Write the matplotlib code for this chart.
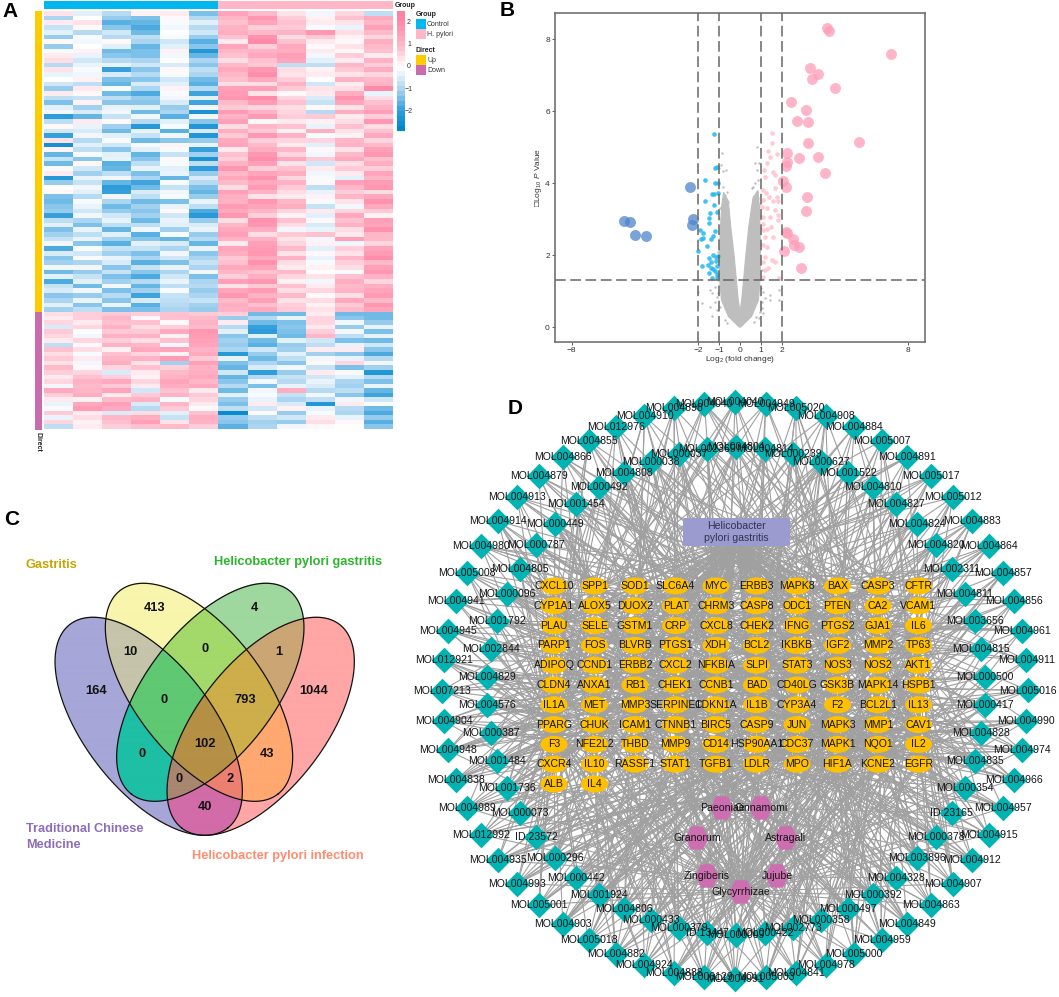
import numpy as np
import matplotlib
matplotlib.use("Agg")
import matplotlib.pyplot as plt
from matplotlib.colors import LinearSegmentedColormap, to_rgb
from matplotlib.patches import Ellipse, Rectangle, Polygon, FancyBboxPatch
from matplotlib.collections import LineCollection

plt.rcParams['font.family'] = ['Liberation Sans', 'DejaVu Sans']
plt.rcParams['mathtext.fontset'] = 'custom'
plt.rcParams['mathtext.rm'] = 'Liberation Sans'
plt.rcParams['mathtext.it'] = 'Liberation Sans:italic'

W, H = 1059, 997

# ---------------- A: heatmap values (tenths of z-score, read by eye) ----------------
HEAT_UP = [
 [4,-4,-9,2,3,-14,15,10,4,-2,6,-8],[-10,0,-12,-14,1,-9,11,18,7,2,9,14],[3,4,-17,-16,-1,-4,9,15,9,3,4,11],
 [-7,1,-13,-18,-2,-9,12,7,8,-1,-3,16],[-4,-9,-6,-15,0,-6,13,10,12,18,5,10],[-12,-1,-9,-8,-1,-12,9,19,5,8,2,6],
 [1,-2,1,-10,-6,-17,3,21,9,3,1,13],[-12,0,-4,-16,-4,-13,15,7,14,1,4,10],[-1,2,-15,-14,2,-23,11,12,13,3,1,9],
 [3,-3,-13,-14,-2,-16,9,14,16,-2,7,3],[5,-6,-9,-10,0,-10,5,9,15,-4,3,12],[-9,-3,-3,-6,-5,-13,10,8,-8,-8,11,7],
 [4,-1,-20,-13,1,-8,14,18,5,2,8,13],[-3,-2,-5,-9,-1,-10,11,20,4,3,4,6],[0,2,-14,-13,-6,-15,9,14,7,0,12,10],
 [-6,-8,-16,-5,-4,-17,5,5,12,-6,3,12],[-12,3,-1,-10,2,-9,16,16,8,4,5,21],[3,1,-15,-18,-1,-19,17,4,1,3,13,-3],
 [-8,-7,-8,-12,-2,-4,18,21,6,-5,19,5],[-14,2,-13,-13,-5,-19,10,17,9,-7,15,9],[-4,-11,-3,-4,-12,-2,8,6,5,1,4,12],
 [-2,-5,-2,-15,-10,-24,17,12,6,-9,13,16],[-21,-16,-7,-2,-17,-2,12,17,7,8,3,7],[-8,3,1,-9,-4,-13,16,1,3,2,5,18],
 [1,-3,-11,-22,-1,-23,5,11,9,-3,9,5],[-6,-5,-15,-3,-17,-5,13,8,2,13,4,9],[-20,-2,-4,-7,-2,-23,8,18,12,-1,2,14],
 [4,-9,-1,-15,-13,-12,14,7,6,6,11,6],[-25,-4,-6,-1,2,-3,15,10,3,-4,12,10],[2,-8,-13,-4,-1,-20,3,13,11,1,4,16],
 [-16,-1,-4,-16,-7,-11,9,18,6,-2,10,18],[-7,-13,-3,-13,1,-24,7,20,14,8,14,9],[-15,1,-17,-8,-1,-8,12,16,4,-6,5,13],
 [-1,-6,-16,-3,-4,-21,18,7,9,3,8,7],[3,-11,-8,-14,-3,-12,11,15,13,-2,3,15],[-22,-3,-2,-10,-16,-5,14,19,6,-1,-4,11],
 [-12,-7,-16,-19,-1,-9,10,14,12,1,16,17],[0,-2,-21,-15,-7,-14,5,17,8,-8,11,18],[1,-4,-20,-5,-2,-16,16,12,5,-3,7,5],
 [-14,-9,-2,-8,-1,-12,13,4,3,2,11,14],[-15,-1,-10,-15,-14,-3,12,18,11,-1,4,19],[-13,-3,-15,-11,-3,-8,17,15,13,-7,-2,14],
 [-12,-6,-12,-13,1,-18,14,11,6,3,6,8],[-20,-2,-6,-11,-6,-22,18,7,2,-4,14,2],[-8,-10,-3,-15,-3,-12,5,19,9,1,9,16],
 [-4,-14,-8,-8,-4,-5,11,18,5,-5,12,15],[-14,-3,-16,-2,-11,-3,14,13,-2,-3,5,19],[-11,-8,-4,-17,-1,-12,16,5,8,9,3,11],
 [-7,-3,-11,-13,-16,-9,12,12,4,-2,16,10],[-2,-13,-17,-4,-5,-16,3,16,6,2,-2,6],[-18,-1,-7,-7,-10,-3,15,17,10,-4,7,15],
 [-5,-6,-11,-14,-2,-13,13,18,4,1,4,17],[-13,-1,-3,-10,-6,-10,8,14,12,-3,11,20],[-11,-10,-5,-17,-14,-7,9,19,5,-1,7,10],
 [-2,-2,-13,-7,-3,-10,14,15,3,2,5,16],[-15,-12,-7,-13,-10,-2,11,9,10,0,-1,18],[-4,-7,-14,-18,-6,-14,7,13,6,4,9,12],
 [-18,-4,-11,-9,-3,-10,16,18,2,-2,13,6],[-7,-15,-2,-16,-8,-9,4,8,9,3,10,13],[-5,-2,-14,-11,-1,-12,15,17,5,6,12,15],
 [-13,-12,-9,-19,-7,-10,18,12,10,1,5,17],[-10,-3,-13,-5,-8,-7,10,16,4,5,14,10],[-4,-13,-3,-17,-9,-11,13,9,7,2,8,18],
 [-11,-8,-14,-14,-10,-12,12,14,8,4,10,15],
]
HEAT_DOWN = [
 [5,7,8,7,9,8,7,-15,-15,3,-15,-15],[3,7,11,1,9,10,-12,-9,-3,6,-13,-15],[6,3,9,9,1,12,3,-15,-14,6,-2,-12],
 [-5,6,12,5,7,10,-9,-20,-13,3,-12,-3],[8,0,8,8,14,18,-4,-21,-14,7,-2,-14],[6,-2,12,12,2,17,-13,-4,-15,11,-8,-3],
 [3,6,7,5,9,16,-11,-15,-4,-6,-14,-15],[-8,1,12,11,-2,15,-12,-17,-12,-8,-3,-6],[9,5,2,14,15,12,-10,-6,-11,3,3,-13],
 [5,-1,9,6,2,14,-22,-12,-4,-11,-13,-18],[8,3,11,12,17,8,-3,-15,-8,-2,-3,-9],[4,-2,13,4,-11,16,-14,-10,-13,1,6,-2],
 [10,1,6,9,7,12,-16,-5,-2,-7,-14,-11],[7,6,-5,3,10,13,-6,-21,-12,3,-1,-23],[3,9,7,2,12,14,-16,-9,-7,-6,-4,-9],
 [6,12,14,6,15,11,-13,-2,-9,-3,-10,-14],[-2,10,8,3,13,14,-9,-14,-3,-5,-11,-3],[14,11,15,-6,9,3,-15,-2,13,-9,-8,-16],
 [7,13,3,8,12,8,-4,-1,-7,-2,-13,-19],[3,2,10,12,-1,6,-12,-3,-10,-8,-2,-6],[-3,14,16,-5,11,3,-14,3,-5,-23,3,-1],
 [-1,17,14,-9,8,1,-8,-6,2,-3,-9,-15],[8,3,-5,5,-4,9,-27,1,-12,-1,-10,-18],[-3,5,11,13,-7,13,-12,-8,-6,3,-3,-12],
 [6,2,9,16,4,12,-13,-11,-12,5,1,-17],[-8,3,7,9,10,7,-17,-10,-2,1,0,-13],
]

CBAR_TICKS = [-2, -1, 0, 1, 2]
GROUP_LABELS = ["Control", "H. pylori"]
DIRECT_LABELS = ["Up", "Down"]

# ---------------- B: volcano values ----------------
BIG_PINK_X = [4.12,4.23,7.16,3.31,3.72,3.40,4.53,2.42,3.14,2.72,3.21,5.67,3.21,2.23,3.71,2.80,2.23,2.17,4.02,2.06,2.19,3.20,3.15,2.17,2.23,2.50,2.58,2.80,2.07,2.90]
BIG_PINK_Y = [8.32,8.23,7.59,7.19,7.03,6.89,6.64,6.26,6.03,5.74,5.71,5.15,5.13,4.84,4.74,4.70,4.58,4.49,4.29,4.05,3.91,3.63,3.24,2.66,2.63,2.46,2.28,2.24,2.13,1.65]
BIG_BLUE_X = [-5.53,-5.21,-4.99,-4.45,-2.38,-2.22,-2.28]
BIG_BLUE_Y = [2.94,2.92,2.56,2.54,3.90,3.02,2.85]
SMALL_BLUE_X = [-1.25,-1.19,-1.09,-1.19,-1.05,-1.65,-1.31,-1.22,-1.05,-1.66,-1.22,-1.11,-1.41,-1.46,-1.47,-1.90,-1.74,-1.17,-1.87,-1.77,-1.39,-1.28,-1.57,-1.98,-1.06,-1.16,-1.27,-1.46,-1.14,-1.36,-1.50,-1.79,-1.11,-1.39,-1.27,-1.46,-1.19,-1.09,-1.35,-1.11]
SMALL_BLUE_Y = [5.36,4.43,4.45,4.02,4.00,4.08,3.71,3.71,3.72,3.50,3.40,3.21,3.18,3.03,2.91,2.70,2.61,2.67,2.46,2.48,2.45,2.53,2.27,2.12,1.98,1.95,2.02,1.92,1.83,1.80,1.74,1.69,1.69,1.64,1.61,1.52,1.55,1.48,1.36,1.41]
SMALL_PINK_X = [1.54,1.52,1.35,1.44,1.76,1.27,1.12,1.58,1.19,1.66,1.08,1.24,1.39,1.66,1.74,1.11,1.55,1.82,1.03,1.27,1.66,1.82,1.11,1.43,1.82,1.11,1.46,1.11,1.30,1.19,1.58,1.11,1.27,1.19,1.50,1.66,1.11,1.19,1.11,1.85,1.35]
SMALL_PINK_Y = [5.40,5.13,4.89,4.74,4.80,4.55,4.37,4.30,4.18,4.23,3.81,3.72,3.63,3.86,3.63,3.54,3.50,3.50,3.35,3.31,3.26,3.12,3.07,3.07,2.98,2.87,2.78,2.70,2.74,2.50,2.52,2.29,2.24,1.96,1.87,1.82,1.82,1.59,1.41,1.36,1.64]
GRAY_X = [-0.84,-0.98,-0.68,-0.79,-0.92,-0.60,-0.71,-0.67,-0.55,-0.79,-0.87,0.79,0.71,0.92,0.82,0.87,0.71,0.55,0.63,0.79,-1.43,-1.31,-1.98,-1.82,-1.43,-1.35,-1.19,-1.11,-1.03,-1.19,1.11,1.19,1.43,1.43,1.85,1.85,1.11,1.03,0.92,-1.02,-1.05,-0.99,-1.0,-1.08,-0.96,1.0,1.05,1.02,0.98,1.06,0.95,-0.6,-0.72,0.68,0.75,-1.0,1.0,-0.93,0.9,-0.82,0.85]
GRAY_Y = [4.85,4.42,4.37,4.35,4.51,3.77,3.68,3.54,3.49,3.54,3.31,5.00,4.56,4.57,4.37,4.09,4.02,3.86,3.91,3.77,1.04,0.94,0.99,0.67,0.57,0.30,0.71,0.48,0.94,1.13,0.99,0.81,0.90,0.76,1.04,0.76,0.39,0.53,0.25,1.3,2.1,2.45,1.75,0.85,0.55,2.3,1.6,1.1,2.75,0.7,0.42,0.12,0.2,0.15,0.28,3.0,3.1,3.3,3.4,3.9,3.6]
CLOUD_LEFT_X = [-0.02,-0.55,-0.88,-0.96,-0.97,-0.94,-0.87,-0.78,-0.55,-0.44,-0.27,-0.17,-0.09,-0.02]
CLOUD_LEFT_Y = [0.00,0.30,0.76,1.30,1.90,2.60,3.35,3.75,3.50,2.80,1.95,1.30,0.80,0.50]
CLOUD_RIGHT_X = [0.02,0.55,0.88,0.95,0.97,0.96,0.93,0.85,0.62,0.42,0.27,0.17,0.09,0.02]
CLOUD_RIGHT_Y = [0.00,0.30,0.76,1.30,1.90,2.60,3.30,3.80,3.60,2.80,1.95,1.30,0.80,0.50]
VOLCANO_XTICKS = [-8,-2,-1,0,1,2,8]
VOLCANO_YTICKS = [0,2,4,6,8]
P_CUT = 1.3
FC_CUTS = [-2,-1,1,2]

# ---------------- C: Venn counts ----------------
VENN_COUNTS = ["413","4","10","0","1","164","1044","0","793","102","0","43","0","2","40"]
VENN_POS = [(154.3,608.3),(254.7,608.3),(130,652.3),(204.7,649.3),(279.3,652.3),(96.3,691),(313.3,691),(163.7,700.3),(245.3,700.3),(204.7,744.3),(142,754),(267.3,754),(179.3,779.3),(229.7,779.3),(204.7,807)]

# ---------------- D: network labels ----------------
OUTER = ["MOL004040","MOL004949","MOL005020","MOL004908","MOL004884","MOL005007","MOL004891","MOL005017","MOL005012","MOL004883","MOL004864","MOL004857","MOL004856","MOL004961","MOL004911","MOL005016","MOL004990","MOL004974","MOL004966","MOL004957","MOL004915","MOL004912","MOL004907","MOL004863","MOL004849","MOL004959","MOL005000","MOL004978","MOL004841","MOL005003","MOL004991","MOL006129","MOL004888","MOL004924","MOL004882","MOL005018","MOL004903","MOL005001","MOL004993","MOL004935","MOL012992","MOL004989","MOL004838","MOL004948","MOL004904","MOL007213","MOL012921","MOL004945","MOL004941","MOL005008","MOL004980","MOL004914","MOL004913","MOL004879","MOL004866","MOL004855","MOL012976","MOL004910","MOL004898","MOL004040"]
INNER = ["MOL004804","MOL004814","MOL000239","MOL000627","MOL001522","MOL004810","MOL004827","MOL004824","MOL004820","MOL002311","MOL004811","MOL003656","MOL004815","MOL000500","MOL000417","MOL004828","MOL004835","MOL000354","ID:23165","MOL000378","MOL003896","MOL004328","MOL000392","MOL000497","MOL000358","MOL002773","MOL000422","MOL000009","ID:13447","MOL000379","MOL000433","MOL004806","MOL001924","MOL000442","MOL000296","ID:23572","MOL000073","MOL001736","MOL001484","MOL000387","MOL004576","MOL004829","MOL002844","MOL001792","MOL000096","MOL004805","MOL000787","MOL000449","MOL001454","MOL000492","MOL004808","MOL000038","MOL000037","MOL002369"]
GENES = [
 ["CXCL10","SPP1","SOD1","SLC6A4","MYC","ERBB3","MAPK8","BAX","CASP3","CFTR"],
 ["CYP1A1","ALOX5","DUOX2","PLAT","CHRM3","CASP8","ODC1","PTEN","CA2","VCAM1"],
 ["PLAU","SELE","GSTM1","CRP","CXCL8","CHEK2","IFNG","PTGS2","GJA1","IL6"],
 ["PARP1","FOS","BLVRB","PTGS1","XDH","BCL2","IKBKB","IGF2","MMP2","TP63"],
 ["ADIPOQ","CCND1","ERBB2","CXCL2","NFKBIA","SLPI","STAT3","NOS3","NOS2","AKT1"],
 ["CLDN4","ANXA1","RB1","CHEK1","CCNB1","BAD","CD40LG","GSK3B","MAPK14","HSPB1"],
 ["IL1A","MET","MMP3","SERPINE1","CDKN1A","IL1B","CYP3A4","F2","BCL2L1","IL13"],
 ["PPARG","CHUK","ICAM1","CTNNB1","BIRC5","CASP9","JUN","MAPK3","MMP1","CAV1"],
 ["F3","NFE2L2","THBD","MMP9","CD14","HSP90AA1","CDC37","MAPK1","NQO1","IL2"],
 ["CXCR4","IL10","RASSF1","STAT1","TGFB1","LDLR","MPO","HIF1A","KCNE2","EGFR"],
 ["ALB","IL4"],
]
HERBS = ["Paeoniae","Cinnamomi","Granorum","Astragali","Zingiberis","Jujube","Glycyrrhizae"]
HUB_GENES = ["PTGS2","IL1B","JUN","MAPK3","AKT1","IL6","CASP3","BCL2","NOS2","PTGS1","MMP9","HIF1A","CXCL8","EGFR","CAV1","MAPK1","NQO1","STAT1"]
DISEASE = "Helicobacter\npylori gastritis"

fig = plt.figure(figsize=(W/100, H/100), dpi=100, facecolor="white")

def px_axes(x0, y0, x1, y1, **kw):
    return fig.add_axes([x0/W, 1-y1/H, (x1-x0)/W, (y1-y0)/H], **kw)

# ---------------- Panel A ----------------
heat_cmap = LinearSegmentedColormap.from_list("h", [
    (0.0, "#0086CC"), (0.16, "#35A0DC"), (0.33, "#A5D2F0"), (0.47, "#E8F3FB"), (0.5315, "#FFFFFF"),
    (0.60, "#FFE6EC"), (0.717, "#FFBBCB"), (0.90, "#FF8FAD"), (1.0, "#FF7FA2")])
VMIN, VMAX = -2.87, 2.53
for rows, (y0, y1) in [(HEAT_UP, (11, 311.7)), (HEAT_DOWN, (311.7, 429.5))]:
    a = px_axes(44, y0, 392.7, y1)
    a.imshow(np.array(rows)/10.0, aspect="auto", cmap=heat_cmap, vmin=VMIN, vmax=VMAX, interpolation="nearest")
    a.axis("off")

ov = fig.add_axes([0, 0, 1, 1], facecolor="none")
ov.set_xlim(0, W); ov.set_ylim(H, 0); ov.axis("off")

ov.add_patch(Rectangle((44, 1), 174.3, 8.3, fc="#00B8EF", ec="none"))
ov.add_patch(Rectangle((218.3, 1), 174.4, 8.3, fc="#FFB6C6", ec="none"))
ov.add_patch(Rectangle((35, 11), 6.7, 300.7, fc="#FFCC00", ec="none"))
ov.add_patch(Rectangle((35, 311.7), 6.7, 117.8, fc="#C96BAE", ec="none"))
ov.text(38.3, 442, "Direct", rotation=-90, ha="center", va="center", fontsize=5, fontweight="bold", color="#222")

cb = px_axes(396.7, 11, 404, 130.7)
cb.imshow(np.linspace(VMAX, VMIN, 24)[:, None], aspect="auto", cmap=heat_cmap, vmin=VMIN, vmax=VMAX,
          extent=(0, 1, VMIN, VMAX), interpolation="nearest")
cb.set_xticks([]); cb.set_yticks([])
for s in cb.spines.values():
    s.set_visible(False)
for t in CBAR_TICKS:
    yy = 67 - 22.2*t
    ov.text(409, yy, str(t).replace("-", "\u2212"), ha="center", va="center", fontsize=5, color="#333")
ov.text(395, 5.5, "Group", ha="left", va="center", fontsize=5, fontweight="bold", color="#222")
ov.text(416, 14, "Group", ha="left", va="center", fontsize=5, fontweight="bold", color="#222")
ov.add_patch(Rectangle((416, 19), 9.7, 10, fc="#00B8EF", ec="none"))
ov.add_patch(Rectangle((416, 29), 9.7, 10, fc="#FFB6C6", ec="none"))
ov.text(427, 24, GROUP_LABELS[0], ha="left", va="center", fontsize=5, color="#333")
ov.text(427, 34, GROUP_LABELS[1], ha="left", va="center", fontsize=5, color="#333")
ov.text(416, 50, "Direct", ha="left", va="center", fontsize=5, fontweight="bold", color="#222")
ov.add_patch(Rectangle((416, 55), 9.7, 10, fc="#FFCC00", ec="none"))
ov.add_patch(Rectangle((416, 65), 9.7, 10, fc="#C96BAE", ec="none"))
ov.text(427, 60, DIRECT_LABELS[0], ha="left", va="center", fontsize=5, color="#333")
ov.text(427, 70, DIRECT_LABELS[1], ha="left", va="center", fontsize=5, color="#333")

# ---------------- Panel B ----------------
v = px_axes(554.7, 13.3, 925, 341.7)
v.set_xlim(-8.8, 8.79); v.set_ylim(-0.4, 8.72)
v.fill(CLOUD_LEFT_X, CLOUD_LEFT_Y, color="#BEBEBE", lw=0.8, zorder=1)
v.fill(CLOUD_RIGHT_X, CLOUD_RIGHT_Y, color="#BEBEBE", lw=0.8, zorder=1)
v.scatter(GRAY_X, GRAY_Y, s=3, color="#BEBEBE", lw=0, zorder=1)
v.scatter(SMALL_PINK_X, SMALL_PINK_Y, s=11, color="#FFC4D2", alpha=0.9, lw=0, zorder=2)
v.scatter(SMALL_BLUE_X, SMALL_BLUE_Y, s=11, color="#22B8F0", alpha=0.85, lw=0, zorder=2)
v.scatter(BIG_PINK_X, BIG_PINK_Y, s=62, color="#FF9DB8", alpha=0.75, lw=0, zorder=3)
v.scatter(BIG_BLUE_X, BIG_BLUE_Y, s=62, color="#4D84CC", alpha=0.75, lw=0, zorder=3)
for c in FC_CUTS:
    v.axvline(c, color="#666666", lw=1.1, dashes=(7, 3), zorder=4)
v.axhline(P_CUT, color="#666666", lw=1.1, dashes=(7, 3), zorder=4)
for s in v.spines.values():
    s.set_color("#666666"); s.set_linewidth(1.1)
v.set_xticks(VOLCANO_XTICKS); v.set_yticks(VOLCANO_YTICKS)
v.tick_params(labelsize=6, length=2, width=0.6, color="#444", labelcolor="#333", pad=1.5)
v.set_xlabel("Log$_2$ (fold change)", fontsize=6, color="#333", labelpad=0.5)
v.set_ylabel("\u25a1Log$_{10}$ $P$ Value", fontsize=6, color="#333", labelpad=1)

# ---------------- Panel C ----------------
A_V, B_V, PHI = 128.8, 63.8, np.deg2rad(52.2)
ELLS = [(199.0, 692.3, 1), (210.3, 692.3, -1), (148.7, 726.3, 1), (260.7, 726.3, -1)]  # Y G B P
REGION = {1:"#F8F5AD", 2:"#9FD89F", 4:"#A6A6D8", 8:"#FFA6A6", 3:"#A3D96A", 10:"#CBA674", 5:"#C6C4AA",
          7:"#5FC872", 11:"#CDAE4A", 6:"#1EBFA5", 9:"#FFA870", 15:"#B59045", 14:"#A98670", 13:"#EC8070", 12:"#D26CA8"}
gx = np.arange(40, 370, 0.25) + 0.125
gy = np.arange(560, 850, 0.25) + 0.125
XX, YY = np.meshgrid(gx, gy)
code = np.zeros(XX.shape, dtype=int)
for bit, (cx, cy, sgn) in enumerate(ELLS):
    dx, dy = XX-cx, YY-cy
    u = dx*np.cos(PHI)*sgn + dy*np.sin(PHI)
    w = -dx*np.sin(PHI)*sgn + dy*np.cos(PHI)
    code[(u/A_V)**2 + (w/B_V)**2 <= 1] += 1 << bit
img = np.ones(code.shape + (4,))
img[..., 3] = 0
for k, col in REGION.items():
    m = code == k
    img[m, :3] = to_rgb(col); img[m, 3] = 1
ov.imshow(img, extent=(40, 370, 850, 560), aspect="auto", interpolation="antialiased", zorder=1)
ov.set_xlim(0, W); ov.set_ylim(H, 0)
t = np.linspace(0, 2*np.pi, 300)
for cx, cy, sgn in ELLS:
    u, w = A_V*np.cos(t), B_V*np.sin(t)
    ov.plot(cx + sgn*(u*np.cos(PHI) - w*np.sin(PHI)), cy + u*np.sin(PHI) + w*np.cos(PHI), color="#111", lw=0.9, zorder=2)
for s, (x, y) in zip(VENN_COUNTS, VENN_POS):
    ov.text(x, y, s, ha="center", va="center", fontsize=9.3, fontweight="bold", color="#111", zorder=3)
ov.text(26, 565, "Gastritis", color="#C8A400", fontsize=9.2, fontweight="bold", va="center")
ov.text(214, 561.5, "Helicobacter pylori gastritis", color="#2CB52C", fontsize=9.2, fontweight="bold", va="center")
ov.text(26, 829, "Traditional Chinese", color="#8C6DB8", fontsize=9.2, fontweight="bold", va="center")
ov.text(26, 845, "Medicine", color="#8C6DB8", fontsize=9.2, fontweight="bold", va="center")
ov.text(192, 856, "Helicobacter pylori infection", color="#FF8C70", fontsize=9.2, fontweight="bold", va="center")

# ---------------- Panel D ----------------
def ring(n, cx, cy, rx, ry):
    th = 2*np.pi*np.arange(n)/n
    return cx + rx*np.sin(th), cy - ry*np.cos(th)

ox, oy = ring(len(OUTER), 735, 690.5, 293, 288.5)
ix, iy = ring(len(INNER), 736, 691, 249, 244)
col_x = 554 + 40.5*np.arange(10)
row_y = 586 + 19.8*np.arange(11)
gene_pos = {}
for r, row in enumerate(GENES):
    for c, g in enumerate(row):
        gene_pos[g] = (col_x[c], row_y[r])
gene_names = [g for row in GENES for g in row]
herb_pos = dict(zip(HERBS, [(722, 808), (761, 808), (697, 838), (786, 838), (707, 876), (777, 876), (741, 892)]))
rect_xy = (683, 518, 107, 28)

segs = []
for g in gene_names:
    segs.append(((736.5, 540), gene_pos[g]))
mol_xy = list(zip(ox, oy)) + list(zip(ix, iy))
nh, ng = len(HUB_GENES), len(gene_names)
for i, p in enumerate(mol_xy):
    segs.append((p, herb_pos["Glycyrrhizae"] if i % 3 else herb_pos[HERBS[i % 7]]))
    segs.append((p, gene_pos[HUB_GENES[i % nh]]))
    segs.append((p, gene_pos[HUB_GENES[(i*5+7) % nh]]))
    segs.append((p, gene_pos[gene_names[(i*17+3) % ng]]))
    segs.append((p, gene_pos[gene_names[(i*29+41) % ng]]))
    segs.append((p, gene_pos[gene_names[(i*37+11) % ng]]))
    segs.append((p, gene_pos[gene_names[(i*11+67) % ng]]))
    if p[0] < 736:
        segs.append((p, gene_pos["PPARG"]))
    if i >= len(OUTER):
        segs.append((p, gene_pos[gene_names[(i*7+59) % ng]]))
        segs.append((p, gene_pos[gene_names[(i*23+29) % ng]]))
    if p[1] > 700:
        segs.append((p, gene_pos[HUB_GENES[(i*3+2) % nh]]))
        segs.append((p, gene_pos[gene_names[(i*13+89) % ng]]))
ov.add_collection(LineCollection(segs, colors="#A0A0A0", linewidths=0.8, zorder=5))

ov.scatter(list(ox)+list(ix), list(oy)+list(iy), marker="D", s=170, color="#00B4B4", lw=0, zorder=6)
for g in gene_names:
    ov.add_patch(Ellipse(gene_pos[g], 27, 17, fc="#FFC000", ec="none", zorder=6))
hexv = np.array([(-1, 0), (-0.5, 1), (0.5, 1), (1, 0), (0.5, -1), (-0.5, -1)]) * 11.7
for h in HERBS:
    ov.add_patch(Polygon(hexv + np.array(herb_pos[h]), closed=True, fc="#CC6EB0", ec="none", zorder=6))
ov.add_patch(FancyBboxPatch((rect_xy[0]+1, rect_xy[1]+1), rect_xy[2]-2, rect_xy[3]-2, boxstyle="round,pad=1",
                            fc="#9B9BCF", ec="none", zorder=6))
LBL = dict(ha="center", va="center", fontsize=7.6, color="#151515", zorder=8)
for name, x, y in zip(OUTER+INNER, list(ox)+list(ix), list(oy)+list(iy)):
    ov.text(x, y, name, **LBL)
for g in gene_names:
    ov.text(*gene_pos[g], g, **LBL)
for h in HERBS:
    ov.text(*herb_pos[h], h, **LBL)
ov.text(736.5, 532, DISEASE, ha="center", va="center", fontsize=7.6, color="#333355", zorder=8, linespacing=1.25)

# ---------------- Panel letters ----------------
for s, x, y in [("A", 10, 11.5), ("B", 507, 10.5), ("C", 12, 519.5), ("D", 515, 408.5)]:
    ov.text(x, y, s, ha="center", va="center", fontsize=15, fontweight="bold", color="black", zorder=10)

fig.savefig("out.png", dpi=100, facecolor="white")
